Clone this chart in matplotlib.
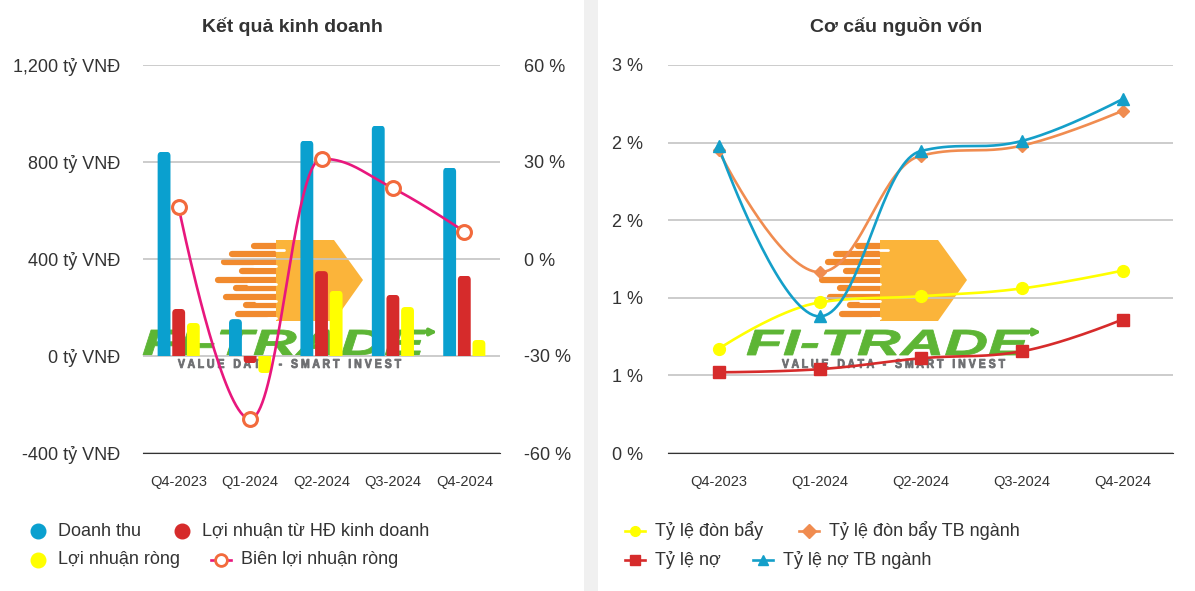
import matplotlib
matplotlib.use("Agg")
import matplotlib.pyplot as plt
import numpy as np
from matplotlib.font_manager import FontProperties
from matplotlib.patches import FancyBboxPatch, PathPatch, Polygon, Rectangle
from matplotlib.textpath import TextPath
from matplotlib.transforms import Affine2D

plt.rcParams['font.family'] = ['Liberation Sans', 'DejaVu Sans']

W, H = 1195, 591

quarters = ["Q4-2023", "Q1-2024", "Q2-2024", "Q3-2024", "Q4-2024"]

# Kết quả kinh doanh (tỷ VNĐ / %)
doanh_thu = [842, 152, 888, 950, 777]
ln_hdkd = [194, -30, 350, 252, 331]
ln_rong = [136, -70, 269, 202, 66]
bien_ln = [16.0, -49.5, 31.0, 21.9, 8.5]

# Cơ cấu nguồn vốn (%)
don_bay = [0.67, 0.97, 1.01, 1.06, 1.175]
don_bay_tb = [1.95, 1.165, 1.915, 1.98, 2.205]
ty_le_no = [0.52, 0.54, 0.61, 0.655, 0.86]
ty_le_no_tb = [1.975, 0.88, 1.945, 2.01, 2.28]

left_ticks = [-400, 0, 400, 800, 1200]
left_labels = ["-400 tỷ VNĐ", "0 tỷ VNĐ", "400 tỷ VNĐ", "800 tỷ VNĐ", "1,200 tỷ VNĐ"]
pct_ticks = [-60, -30, 0, 30, 60]
pct_labels = ["-60 %", "-30 %", "0 %", "30 %", "60 %"]
cc_ticks = [0, 0.5, 1, 1.5, 2, 2.5]
cc_labels = ["0 %", "1 %", "1 %", "2 %", "2 %", "3 %"]

C_BLUE = '#0aa0cf'
C_RED = '#d62b2b'
C_YEL = '#ffff00'
C_PINK = '#e8177d'
C_MRK = '#f26a3c'
C_ORG = '#f08c50'
C_TEAL = '#149fc9'
TXT = '#333333'


def spline(ys, smoothing=1.5, n=40):
    # highcharts-like spline through the points
    ys = np.asarray(ys, float)
    xs = np.arange(len(ys), dtype=float)
    k = len(ys)
    lc = [(xs[i], ys[i]) for i in range(k)]
    rc = [(xs[i], ys[i]) for i in range(k)]
    d = smoothing + 1
    for i in range(1, k - 1):
        px, py = xs[i], ys[i]
        ly0, ny = ys[i - 1], ys[i + 1]
        lx = (smoothing * px + xs[i - 1]) / d
        ly = (smoothing * py + ly0) / d
        rx = (smoothing * px + xs[i + 1]) / d
        ry = (smoothing * py + ny) / d
        corr = (ry - ly) * (rx - px) / (rx - lx) + py - ry
        ly += corr
        ry += corr
        if ly > ly0 and ly > py:
            ly = max(ly0, py); ry = 2 * py - ly
        elif ly < ly0 and ly < py:
            ly = min(ly0, py); ry = 2 * py - ly
        if ry > ny and ry > py:
            ry = max(ny, py); ly = 2 * py - ry
        elif ry < ny and ry < py:
            ry = min(ny, py); ly = 2 * py - ry
        lc[i] = (lx, ly)
        rc[i] = (rx, ry)
    t = np.linspace(0, 1, n)[:, None]
    segs = []
    for i in range(1, k):
        p0 = np.array([xs[i - 1], ys[i - 1]])
        p1 = np.array(rc[i - 1])
        p2 = np.array(lc[i])
        p3 = np.array([xs[i], ys[i]])
        seg = (1 - t) ** 3 * p0 + 3 * (1 - t) ** 2 * t * p1 + 3 * (1 - t) * t ** 2 * p2 + t ** 3 * p3
        segs.append(seg if i == 1 else seg[1:])
    pts = np.vstack(segs)
    return pts[:, 0], pts[:, 1]


def round_bars(ax, bars, r_px=4):
    # swap plain rectangles for ones with rounded free ends
    fig_w = ax.get_position().width * W
    fig_h = ax.get_position().height * H
    x0, x1 = ax.get_xlim()
    y0, y1 = ax.get_ylim()
    ppx = fig_w / (x1 - x0)
    ppy = fig_h / (y1 - y0)
    rx = r_px / ppx
    ry = r_px / ppy
    for b in bars:
        bx, by, bw_, bh = b.get_x(), b.get_y(), b.get_width(), b.get_height()
        top = by + bh
        lo, hi = (by - ry, top) if bh >= 0 else (top, by + ry)
        p = FancyBboxPatch((bx, lo), bw_, hi - lo,
                           boxstyle="round,pad=0,rounding_size=%f" % rx,
                           mutation_aspect=ppx / ppy,
                           fc=b.get_facecolor(), ec='none', zorder=3)
        ax.add_patch(p)
        clip = Rectangle((bx - 1, by), bw_ + 2, bh, transform=ax.transData)
        p.set_clip_path(clip)
        b.set_visible(False)


def text_path(ax, s, x0, x1, y_bot, cap, color, style='normal'):
    fp = FontProperties(family='Liberation Sans', weight='bold', style=style)
    tp = TextPath((0, 0), s, size=1, prop=fp)
    bb = tp.get_extents()
    tr = (Affine2D().translate(-bb.x0, -bb.y0)
          .scale((x1 - x0) / bb.width, -cap / bb.height)
          .translate(x0, y_bot))
    ax.add_patch(PathPatch(tr.transform_path(tp), fc=color, ec=color,
                           lw=0.6, zorder=1))


def logo(ax, dx):
    # FI-TRADE watermark
    streaks = [(858, 246), (836, 254), (828, 262), (846, 271), (822, 280),
               (840, 288), (830, 297), (850, 305), (842, 314)]
    for x, y in streaks:
        ax.plot([x + dx, 900 + dx], [y, y], color='#f18a2e', lw=4.5,
                solid_capstyle='round', zorder=1)
    ax.add_patch(Polygon([(880 + dx, 240), (938 + dx, 240), (967 + dx, 280),
                          (938 + dx, 321), (880 + dx, 321)],
                         closed=True, fc='#fbb43a', ec='none', zorder=1))
    for x, y in streaks[::2]:
        ax.plot([x + 30 + dx, 880 + dx], [y + 4, y + 4], color='white', lw=2,
                solid_capstyle='round', zorder=1)
    text_path(ax, "FI-TRADE", 747 + dx, 1030 + dx, 355, 25, '#5db535', 'italic')
    ax.annotate('', xy=(1044 + dx, 332), xytext=(1010 + dx, 332),
                arrowprops=dict(arrowstyle='-|>', color='#5db535', lw=2.5,
                                mutation_scale=10), zorder=1)
    text_path(ax, "V A L U E   D A T A   -   S M A R T   I N V E S T",
              782 + dx, 1005 + dx, 368, 9, '#6d6e71')


fig = plt.figure(figsize=(W / 100, H / 100), dpi=100)
fig.patch.set_facecolor('white')

bg = fig.add_axes([0, 0, 1, 1], zorder=-1)
bg.set_xlim(0, W)
bg.set_ylim(H, 0)
bg.axis('off')
bg.add_patch(Rectangle((584, 0), 14, H, fc='#f0f0f0', ec='none'))
logo(bg, -604)
logo(bg, 0)

x = np.arange(len(quarters))

# --- Kết quả kinh doanh ---
ax1 = fig.add_axes([143 / W, 1 - 453 / H, 357 / W, 388 / H])
ax1.set_facecolor('none')
ax1.set_xlim(-0.5, len(quarters) - 0.5)
ax1.set_ylim(-400, 1200)
bw, off = 0.18, 0.205
b1 = ax1.bar(x - off, doanh_thu, bw, color=C_BLUE, zorder=3)
b2 = ax1.bar(x, ln_hdkd, bw, color=C_RED, zorder=3)
b3 = ax1.bar(x + off, ln_rong, bw, color=C_YEL, zorder=3)
ax1.set_xlim(-0.5, len(quarters) - 0.5)
ax1.set_ylim(-400, 1200)
for bars in (b1, b2, b3):
    round_bars(ax1, bars)
ax1.set_yticks(left_ticks, left_labels)
ax1.set_xticks(x, quarters)
ax1.grid(axis='y', color='#c4c4c4', lw=1.2, zorder=0)
ax1.set_axisbelow(True)
for s in ['top', 'left', 'right']:
    ax1.spines[s].set_visible(False)
ax1.spines['bottom'].set_color('#333333')
ax1.tick_params(axis='y', length=0, pad=16.5, labelsize=13, labelcolor=TXT)
ax1.tick_params(axis='x', length=0, pad=16, labelsize=10.5, labelcolor=TXT)

ax1b = ax1.twinx()
ax1b.set_ylim(-60, 60)
sx, sy = spline(bien_ln)
ax1b.plot(sx, sy, color=C_PINK, lw=1.9, zorder=4)
ax1b.plot(x, bien_ln, 'o', ms=10, mfc='white', mec=C_MRK, mew=2.2, zorder=5)
ax1b.set_yticks(pct_ticks, pct_labels)
for s in ax1b.spines.values():
    s.set_visible(False)
ax1b.tick_params(axis='y', length=0, pad=17, labelsize=13, labelcolor=TXT)

fig.text(292 / W, 1 - 27 / H, "Kết quả kinh doanh", ha='center', va='center',
         fontsize=14, fontweight='bold', color=TXT)

# --- Cơ cấu nguồn vốn ---
ax2 = fig.add_axes([668 / W, 1 - 453 / H, 505 / W, 388 / H])
ax2.set_facecolor('none')
series2 = [
    (don_bay, C_YEL, 'o', 8.5),
    (don_bay_tb, C_ORG, 'D', 6.5),
    (ty_le_no, C_RED, 's', 8),
    (ty_le_no_tb, C_TEAL, '^', 9),
]
for vals, col, mk, ms in series2:
    sx, sy = spline(vals)
    ax2.plot(sx, sy, color=col, lw=1.9, zorder=3)
    ax2.plot(x, vals, mk, color=col, ms=ms, mec=col, zorder=4)
ax2.set_xlim(-0.5, len(quarters) - 0.5)
ax2.set_ylim(0, 2.5)
ax2.set_yticks(cc_ticks, cc_labels)
ax2.set_xticks(x, quarters)
ax2.grid(axis='y', color='#c4c4c4', lw=1.2, zorder=0)
ax2.set_axisbelow(True)
for s in ['top', 'left', 'right']:
    ax2.spines[s].set_visible(False)
ax2.spines['bottom'].set_color('#333333')
ax2.tick_params(axis='y', length=0, pad=18, labelsize=13, labelcolor=TXT)
ax2.tick_params(axis='x', length=0, pad=16, labelsize=10.5, labelcolor=TXT)

fig.text(896 / W, 1 - 27 / H, "Cơ cấu nguồn vốn", ha='center', va='center',
         fontsize=14, fontweight='bold', color=TXT)

# --- legends ---
leg_left = [
    ("Doanh thu", 'bar', C_BLUE, None, 38, 531),
    ("Lợi nhuận từ HĐ kinh doanh", 'bar', C_RED, None, 182, 531),
    ("Lợi nhuận ròng", 'bar', C_YEL, None, 38, 560),
    ("Biên lợi nhuận ròng", 'line', C_PINK, 'o', 221, 560),
]
leg_right = [
    ("Tỷ lệ đòn bẩy", 'line', C_YEL, 'o', 635, 531),
    ("Tỷ lệ đòn bẩy TB ngành", 'line', C_ORG, 'D', 809, 531),
    ("Tỷ lệ nợ", 'line', C_RED, 's', 635, 560),
    ("Tỷ lệ nợ TB ngành", 'line', C_TEAL, '^', 763, 560),
]
for label, kind, col, mk, lx, ly in leg_left + leg_right:
    if kind == 'bar':
        bg.plot([lx], [ly], 'o', color=col, ms=10.5)
    else:
        bg.plot([lx - 10, lx + 10], [ly, ly], color=col, lw=1.9)
        if label == "Biên lợi nhuận ròng":
            bg.plot([lx], [ly], 'o', ms=8.5, mfc='white', mec=C_MRK, mew=2)
        else:
            bg.plot([lx], [ly], mk, color=col, ms=7)
    bg.text(lx + 20, ly, label, ha='left', va='center', fontsize=13, color=TXT)

fig.savefig("out.png", dpi=100)
